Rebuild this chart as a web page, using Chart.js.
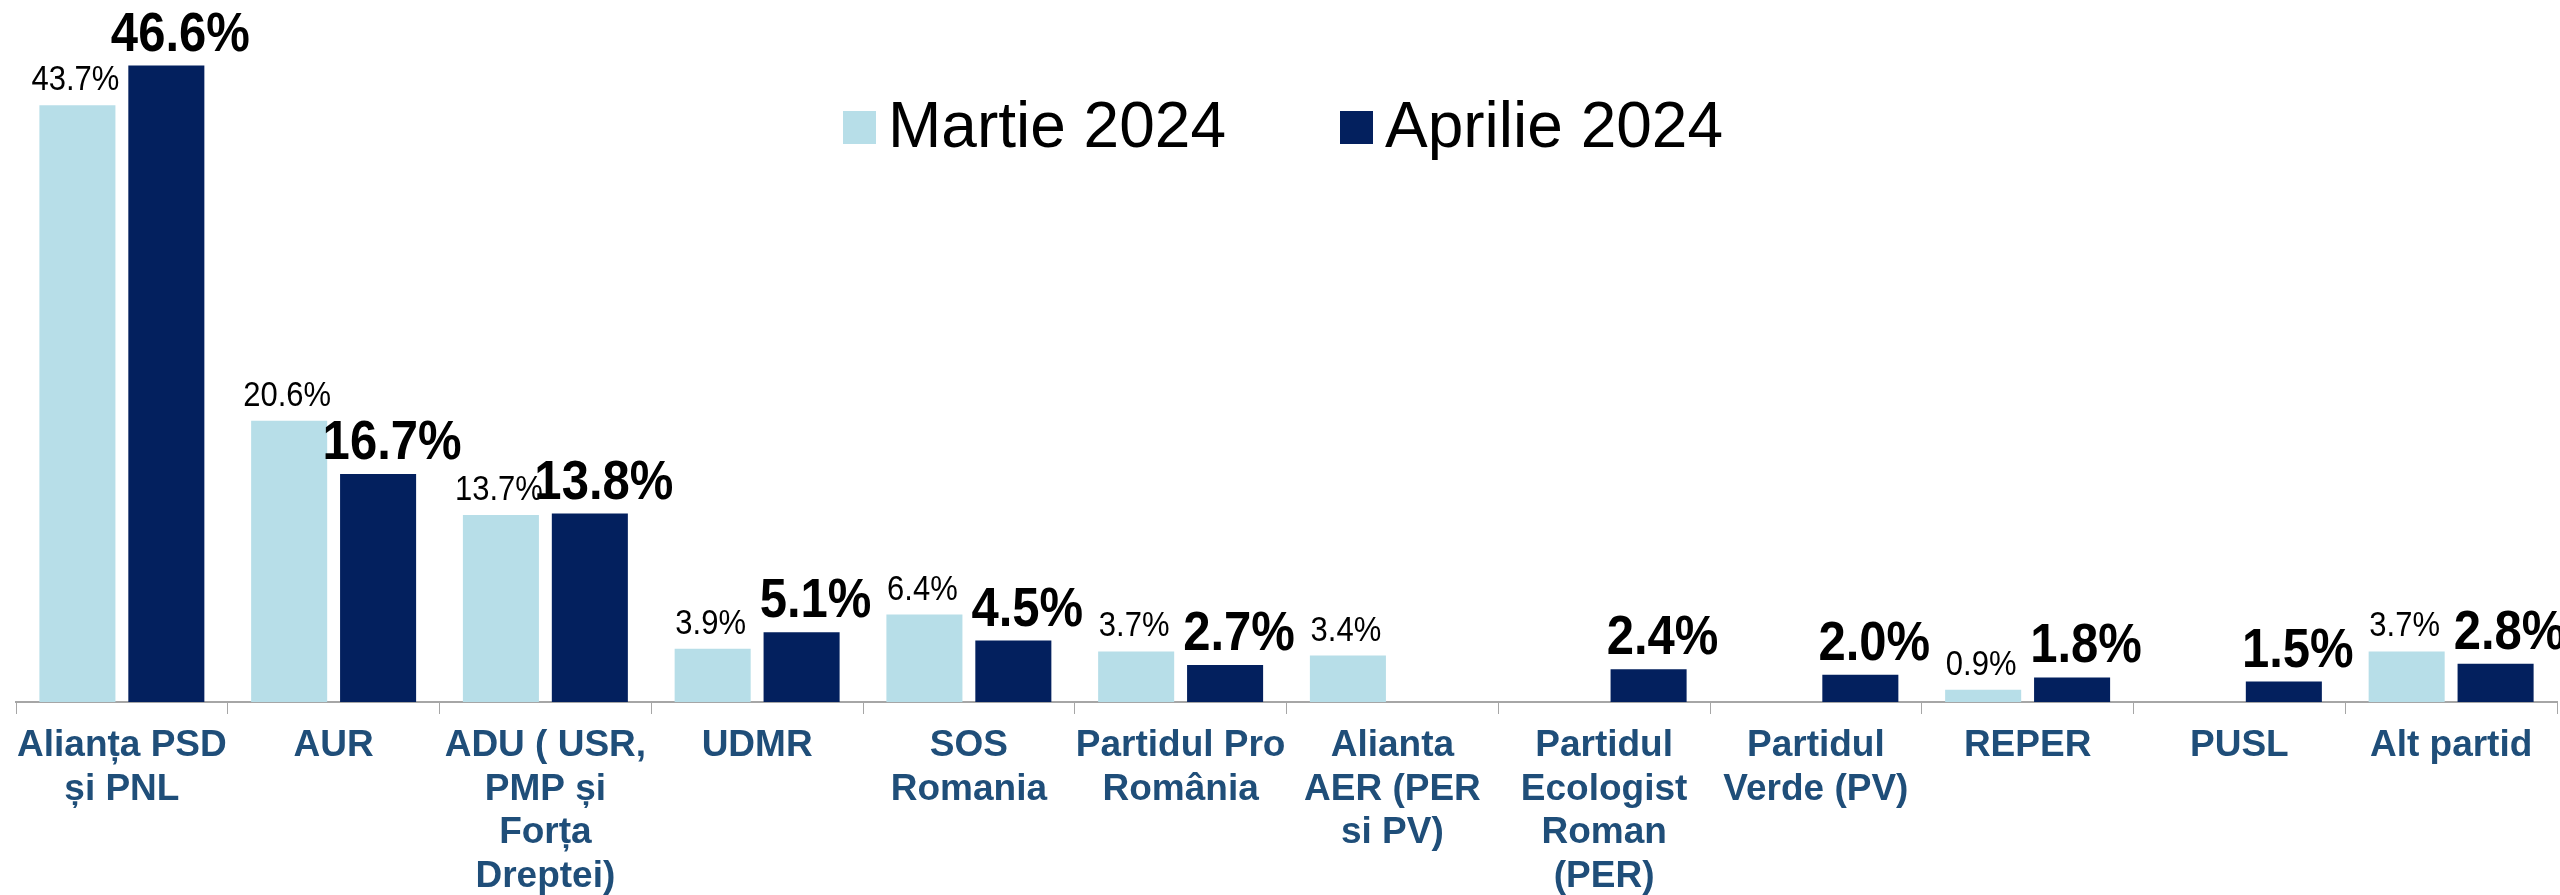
<!DOCTYPE html>
<html>
<head>
<meta charset="utf-8">
<script src="https://cdn.jsdelivr.net/npm/chart.js@4.4.1/dist/chart.umd.min.js"></script>
<style>
  html, body { margin: 0; padding: 0; background: #fff; }
  canvas { display: block; }
</style>
</head>
<body>
<canvas id="my-chart" width="2560" height="895"></canvas>
<script>
// party names, split in lines like the original
const categories = [
    ['Alianța PSD', 'și PNL'],
    ['AUR'],
    ['ADU ( USR,', 'PMP și', 'Forța', 'Dreptei)'],
    ['UDMR'],
    ['SOS', 'Romania'],
    ['Partidul Pro', 'România'],
    ['Alianta', 'AER (PER', 'si PV)'],
    ['Partidul', 'Ecologist', 'Roman', '(PER)'],
    ['Partidul', 'Verde (PV)'],
    ['REPER'],
    ['PUSL'],
    ['Alt partid']
];
const seriesNames = ['Martie 2024', 'Aprilie 2024'];
const martie = [43.7, 20.6, 13.7, 3.9, 6.4, 3.7, 3.4, null, null, 0.9, null, 3.7];
const aprilie = [46.6, 16.7, 13.8, 5.1, 4.5, 2.7, null, 2.4, 2.0, 1.8, 1.5, 2.8];
const colors = ['#B7DEE8', '#03205E'];

const FONT = '"Liberation Sans", Arial, sans-serif';

// value labels above each bar
const valueLabels = {
    id: 'valueLabels',
    afterDatasetsDraw(chart) {
        const ctx = chart.ctx;
        chart.data.datasets.forEach((ds, i) => {
            const meta = chart.getDatasetMeta(i);
            meta.data.forEach((bar, j) => {
                const v = ds.data[j];
                if (v == null) return;
                ctx.save();
                ctx.fillStyle = '#000';
                ctx.textAlign = 'center';
                ctx.textBaseline = 'alphabetic';
                if (i === 0) {
                    ctx.font = '31px ' + FONT;
                    ctx.translate(bar.x - 2, bar.y - 15);
                    ctx.scale(1, 1.12);
                } else {
                    ctx.font = 'bold 49px ' + FONT;
                    ctx.translate(bar.x + 14, bar.y - 15);
                    ctx.scale(1, 1.15);
                }
                ctx.fillText(v.toFixed(1) + '%', 0, 0);
                ctx.restore();
            });
        });
    }
};

// legend drawn inside the plot, top centre
const innerLegend = {
    id: 'innerLegend',
    afterDraw(chart) {
        const ctx = chart.ctx;
        const spots = [843, 1340];
        ctx.save();
        ctx.font = '64px ' + FONT;
        ctx.textBaseline = 'middle';
        chart.data.datasets.forEach((ds, i) => {
            const x = spots[i];
            ctx.fillStyle = ds.backgroundColor;
            ctx.fillRect(x, 111, 33, 33);
            ctx.fillStyle = '#000';
            ctx.fillText(ds.label, x + 45, 129);
        });
        ctx.restore();
    }
};

const config = {
    type: 'bar',
    data: {
        labels: categories,
        datasets: [
            { label: seriesNames[0], data: martie, backgroundColor: colors[0] },
            { label: seriesNames[1], data: aprilie, backgroundColor: colors[1] }
        ]
    },
    options: {
        responsive: false,
        animation: false,
        devicePixelRatio: 1,
        layout: { padding: { left: 16, right: 3, top: 0, bottom: 0 } },
        datasets: {
            bar: { categoryPercentage: 0.84, barPercentage: 0.855 }
        },
        plugins: {
            legend: { display: false },
            tooltip: { enabled: false }
        },
        scales: {
            x: {
                grid: {
                    drawOnChartArea: false,
                    drawTicks: true,
                    tickLength: 12,
                    color: '#A6A6A6',
                    offset: true
                },
                border: { color: '#A6A6A6', width: 2 },
                ticks: {
                    color: '#1F4E79',
                    font: { family: FONT, size: 37, weight: 'bold', lineHeight: 1.18 },
                    maxRotation: 0,
                    autoSkip: false,
                    padding: 10
                },
                afterFit(scale) {
                    scale.height = 193;
                }
            },
            y: {
                display: false,
                min: 0,
                max: 51.4
            }
        }
    },
    plugins: [valueLabels, innerLegend]
};

const myChart = new Chart(document.getElementById('my-chart'), config);
</script>
</body>
</html>
